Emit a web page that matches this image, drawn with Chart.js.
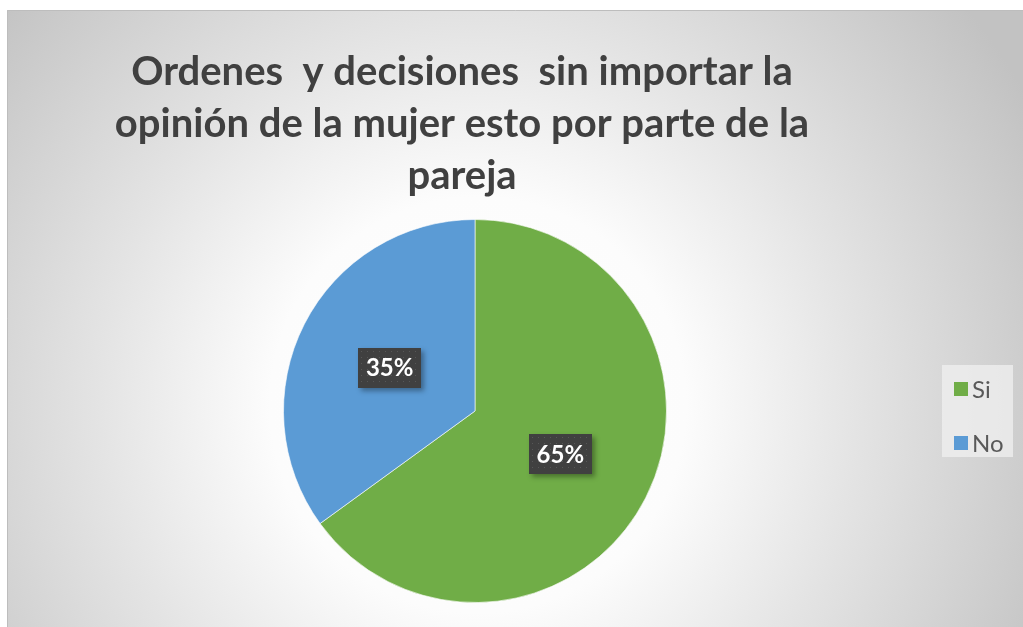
<!DOCTYPE html>
<html>
<head>
<meta charset="utf-8">
<script src="https://cdn.jsdelivr.net/npm/chart.js@4/dist/chart.umd.min.js"></script>
<style>
  html, body { margin: 0; padding: 0; background: #ffffff; }
  #wrap { width: 1023px; height: 627px; position: relative; }
</style>
</head>
<body>
<div id="wrap"><canvas id="c" width="1023" height="627"></canvas></div>
<script>
const titleLines = ['Ordenes  y decisiones  sin importar la', 'opinión de la mujer esto por parte de la', 'pareja'];
const categories = ['Si', 'No'];
const values = [65, 35];
const valueLabels = ['65%', '35%'];
const colors = ['#70AD47', '#5B9BD5'];

const FONT = 'Lato, Carlito, "Open Sans", sans-serif';

const bgPlugin = {
  id: 'bg',
  beforeDraw(chart) {
    const ctx = chart.ctx;
    ctx.save();
    ctx.fillStyle = '#ffffff';
    ctx.fillRect(0, 0, chart.width, chart.height);
    const g = ctx.createRadialGradient(478, 405, 0, 478, 405, 630);
    g.addColorStop(0, '#ffffff');
    g.addColorStop(0.33, '#fcfcfc');
    g.addColorStop(0.6, '#e4e4e4');
    g.addColorStop(1, '#c2c2c2');
    ctx.fillStyle = g;
    ctx.fillRect(7, 10, chart.width - 7, chart.height - 10);
    ctx.strokeStyle = '#bdbdbd';
    ctx.lineWidth = 1;
    ctx.beginPath();
    ctx.moveTo(7.5, chart.height);
    ctx.lineTo(7.5, 10.5);
    ctx.lineTo(chart.width, 10.5);
    ctx.stroke();
    ctx.restore();
  }
};

const titlePlugin = {
  id: 'customTitle',
  afterDraw(chart) {
    const ctx = chart.ctx;
    ctx.save();
    ctx.fillStyle = '#404040';
    ctx.font = 'bold 40px ' + FONT;
    ctx.textAlign = 'center';
    ctx.textBaseline = 'alphabetic';
    titleLines.forEach((line, i) => {
      ctx.fillText(line, 462, 85 + i * 52);
    });
    ctx.restore();
  }
};

const labelPlugin = {
  id: 'valueLabels',
  afterDatasetsDraw(chart) {
    const ctx = chart.ctx;
    const meta = chart.getDatasetMeta(0);
    meta.data.forEach((arc, i) => {
      const p = arc.tooltipPosition();
      const w = 63, h = 40;
      const x = Math.round(p.x - w / 2), y = Math.round(p.y - h / 2);
      ctx.save();
      ctx.shadowColor = 'rgba(0,0,0,0.35)';
      ctx.shadowBlur = 5;
      ctx.shadowOffsetX = 3;
      ctx.shadowOffsetY = 3;
      ctx.fillStyle = '#404040';
      ctx.fillRect(x, y, w, h);
      ctx.restore();
      ctx.save();
      ctx.fillStyle = 'rgba(110,110,110,0.5)';
      for (let yy = y + 3; yy < y + h - 1; yy += 6) {
        for (let xx = x + 3; xx < x + w - 1; xx += 6) {
          ctx.fillRect(xx, yy, 1, 1);
        }
      }
      ctx.fillStyle = '#ffffff';
      ctx.font = 'bold 24px ' + FONT;
      ctx.textAlign = 'center';
      ctx.textBaseline = 'middle';
      ctx.fillText(valueLabels[i], p.x, p.y + 1);
      ctx.restore();
    });
  }
};

const legendPlugin = {
  id: 'customLegend',
  afterDraw(chart) {
    const ctx = chart.ctx;
    ctx.save();
    ctx.fillStyle = 'rgba(240,240,240,0.75)';
    ctx.fillRect(942, 365, 71, 92);
    ctx.font = '24px ' + FONT;
    ctx.textBaseline = 'middle';
    ctx.textAlign = 'left';
    chart.data.labels.forEach((lab, i) => {
      const cy = 389 + i * 54;
      ctx.fillStyle = chart.data.datasets[0].backgroundColor[i];
      ctx.fillRect(954, cy - 7, 14, 14);
      ctx.fillStyle = '#595959';
      ctx.fillText(lab, 972, cy + 1);
    });
    ctx.restore();
  }
};

new Chart(document.getElementById('c'), {
  type: 'pie',
  data: {
    labels: categories,
    datasets: [{
      data: values,
      backgroundColor: colors,
      borderColor: 'rgba(255,255,255,0.6)',
      borderWidth: 1
    }]
  },
  options: {
    responsive: false,
    animation: false,
    layout: { padding: { left: 283, right: 356, top: 219, bottom: 24 } },
    plugins: {
      legend: { display: false },
      title: { display: false },
      tooltip: { enabled: false }
    }
  },
  plugins: [bgPlugin, titlePlugin, labelPlugin, legendPlugin]
});
</script>
</body>
</html>
